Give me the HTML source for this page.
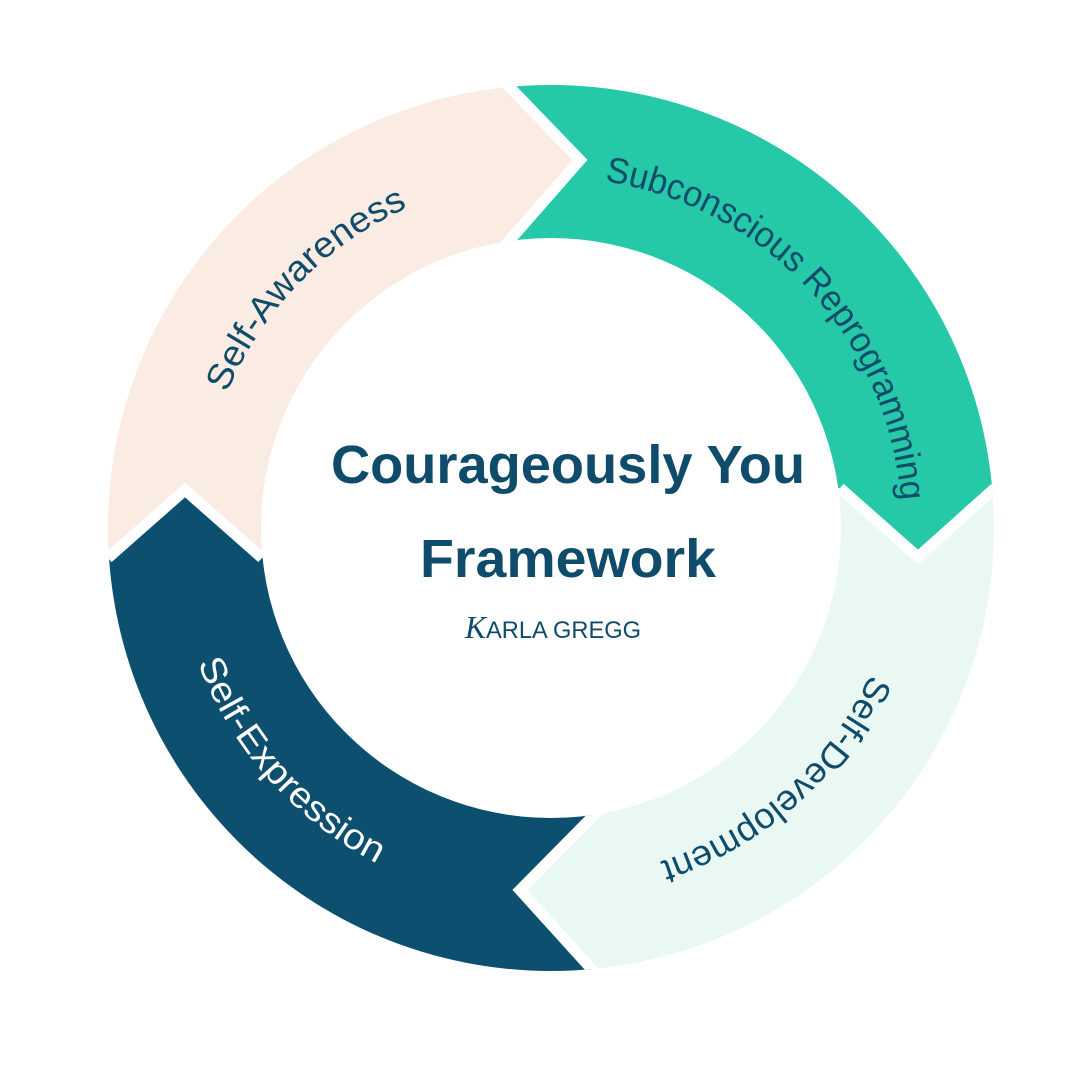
<!DOCTYPE html>
<html><head><meta charset="utf-8"><style>html,body{margin:0;padding:0;background:#fff}svg{display:block}</style></head>
<body>
<svg width="1080" height="1080" viewBox="0 0 1080 1080" xmlns="http://www.w3.org/2000/svg">
<defs>
<clipPath id="ring"><path clip-rule="evenodd" fill-rule="evenodd" d="M551,85 a443,443 0 1,1 0,886 a443,443 0 1,1 0,-886 Z M551,238 a290,290 0 1,0 0,580 a290,290 0 1,0 0,-580 Z"/></clipPath>
<path id="cw" d="M551,177 a351,351 0 1,1 0,702 a351,351 0 1,1 0,-702"/>
<path id="ccw" d="M551,150 a378,378 0 1,0 0,756 a378,378 0 1,0 0,-756"/>
</defs>
<g clip-path="url(#ring)">
<polygon fill="#fbece3" points="0,0 496,0 496,73 580,160 496,256 551,528 262,558 185,490 108,558 0,558"/>
<polygon fill="#25c9a8" points="496,0 1080,0 1080,488 995,488 918,557 840,488 551,528 496,256 580,160 496,73"/>
<polygon fill="#eaf8f4" points="1080,488 1080,1080 600,1080 592,970 520,890 592,818 551,528 840,488 918,557 995,488"/>
<polygon fill="#0d4f6e" points="0,558 108,558 185,490 262,558 551,528 592,818 520,890 592,970 600,1080 0,1080"/>
<g fill="none" stroke="#fff" stroke-width="11">
<polyline points="496,73 580,160 496,256"/>
<polyline points="840,488 918,557 995,488"/>
<polyline points="606,803 520,890 606,985"/>
<polyline points="262,558 185,490 108,558"/>
</g>
</g>
<g font-family="Liberation Sans, sans-serif" font-size="36" fill="#0f4c6b" text-anchor="middle">
<text><textPath href="#cw" startOffset="87.3%" textLength="265" lengthAdjust="spacingAndGlyphs">Self-Awareness</textPath></text>
<text><textPath href="#cw" startOffset="13.1%" textLength="470" lengthAdjust="spacingAndGlyphs">Subconscious Reprogramming</textPath></text>
<text><textPath href="#cw" startOffset="38.4%" textLength="290" lengthAdjust="spacingAndGlyphs">Self-Development</textPath></text>
<text fill="#ffffff"><textPath href="#ccw" startOffset="36.6%" textLength="275" lengthAdjust="spacingAndGlyphs">Self-Expression</textPath></text>
</g>
<g font-family="Liberation Sans, sans-serif" font-weight="bold" fill="#0f4c6b" text-anchor="middle">
<text x="568" y="483" font-size="54" textLength="474" lengthAdjust="spacingAndGlyphs">Courageously You</text>
<text x="568" y="577" font-size="54" textLength="296" lengthAdjust="spacingAndGlyphs">Framework</text>
<text x="553" y="638" font-size="24" font-weight="normal" textLength="176" lengthAdjust="spacingAndGlyphs"><tspan font-style="italic" font-size="32" font-family="Liberation Serif, serif">K</tspan>ARLA GREGG</text>
</g>
</svg>
</body></html>
